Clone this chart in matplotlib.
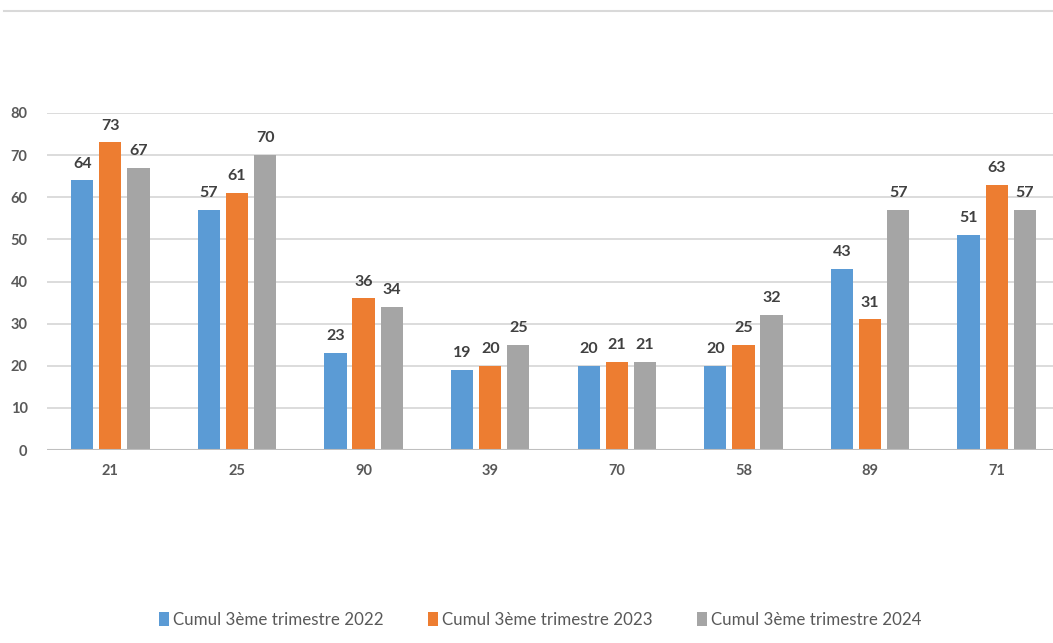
import matplotlib.pyplot as plt
import numpy as np
from matplotlib.lines import Line2D

plt.rcParams["font.family"] = ["Lato", "DejaVu Sans"]

categories = ["21", "25", "90", "39", "70", "58", "89", "71"]
series_names = ["Cumul 3ème trimestre 2022", "Cumul 3ème trimestre 2023", "Cumul 3ème trimestre 2024"]
v2022 = [64, 57, 23, 19, 20, 20, 43, 51]
v2023 = [73, 61, 36, 20, 21, 25, 31, 63]
v2024 = [67, 70, 34, 25, 21, 32, 57, 57]
colors = ["#5b9bd5", "#ed7d31", "#a5a5a5"]

fig = plt.figure(figsize=(10.53, 6.43), dpi=100)
ax = fig.add_axes([47 / 1053, 1 - 450 / 643, 1013 / 1053, (450 - 113) / 643])

x = np.arange(len(categories))
width = 0.175
step = 0.222
for i, (vals, col, name) in enumerate(zip([v2022, v2023, v2024], colors, series_names)):
    bars = ax.bar(x + (i - 1) * step, vals, width, color=col, label=name, zorder=3)
    for b, v in zip(bars, vals):
        ax.annotate(str(v), (b.get_x() + b.get_width() / 2, v), xytext=(0, 7),
                    textcoords="offset points", ha="center", va="bottom",
                    fontsize=11.5, fontweight="bold", color="#404040")

ax.set_xlim(-0.5, len(categories) - 0.5)
ax.set_ylim(0, 80)
ax.set_yticks(range(0, 81, 10))
ax.set_xticks(x)
ax.set_xticklabels(categories)
ax.grid(axis="y", color="#d9d9d9", linewidth=1.3, zorder=0)
ax.axhline(0, color="#bfbfbf", linewidth=1.5, zorder=4)
for s in ax.spines.values():
    s.set_visible(False)
ax.tick_params(length=0, labelsize=10.5, colors="#595959")
ax.tick_params(axis="y", pad=14)
ax.tick_params(axis="x", pad=10)
for lbl in ax.get_xticklabels() + ax.get_yticklabels():
    lbl.set_fontweight("bold")

# ligne grise en haut
fig.add_artist(Line2D([4 / 1053, 1], [1 - 11 / 643] * 2, color="#d9d9d9", linewidth=1.5))

fig.legend(loc="center", bbox_to_anchor=(540 / 1053, 1 - 620 / 643), ncol=3, frameon=False,
           fontsize=12.2, handlelength=0.6, handleheight=0.9, handletextpad=0.25, columnspacing=2.6,
           labelcolor="#595959")

plt.savefig("out.png", dpi=100)
plt.close()
